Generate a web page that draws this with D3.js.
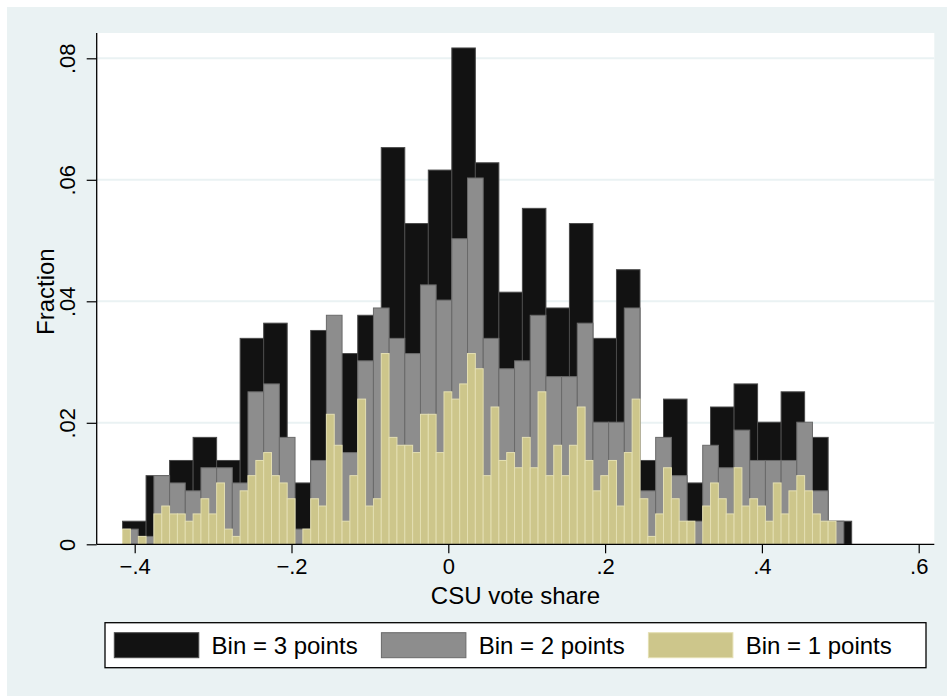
<!DOCTYPE html>
<html>
<head>
<meta charset="utf-8">
<script src="https://cdn.jsdelivr.net/npm/d3@7/dist/d3.min.js"></script>
<style>
  html, body { margin: 0; padding: 0; background: #ffffff; }
  svg { display: block; }
  text { font-family: "Liberation Sans", Arial, Helvetica, sans-serif; fill: #000; }
</style>
</head>
<body>
<svg id="chart" width="947" height="696"></svg>
<script>
// ---------------- data ----------------
const binStart = -0.4155;            // left edge of the first bin (min of CSU vote share)
const binWidths = [0.03, 0.02, 0.01];
const seriesLabels = ["Bin = 3 points", "Bin = 2 points", "Bin = 1 points"];

// fractions, bin width 0.03
const bin3Fraction = [0.0038, 0.0113, 0.0138, 0.0176, 0.0138, 0.0339, 0.0364, 0.0101, 0.0352, 0.0314,
  0.0377, 0.0653, 0.0528, 0.0616, 0.0817, 0.0628, 0.0415, 0.0553, 0.0389, 0.0528,
  0.0339, 0.0452, 0.0138, 0.0239, 0.0101, 0.0226, 0.0264, 0.0201, 0.0251, 0.0176, 0.0038];

// fractions, bin width 0.02
const bin2Fraction = [0.0025, 0.0013, 0.0113, 0.0101, 0.0088, 0.0126, 0.0126, 0.0101, 0.0251, 0.0264,
  0.0176, 0.0025, 0.0138, 0.0377, 0.0151, 0.0302, 0.0389, 0.0339, 0.0314, 0.0427,
  0.0402, 0.0503, 0.0603, 0.0339, 0.0289, 0.0302, 0.0377, 0.0276, 0.0276, 0.0364,
  0.0201, 0.0201, 0.0389, 0.0088, 0.0176, 0.0113, 0.0038, 0.0163, 0.0126, 0.0188,
  0.0138, 0.0138, 0.0138, 0.0201, 0.0088, 0.0038];

// fractions, bin width 0.01
const bin1Fraction = [0.0025, 0.0000, 0.0013, 0.0000, 0.0050, 0.0063, 0.0050, 0.0050, 0.0038, 0.0050,
  0.0075, 0.0050, 0.0101, 0.0025, 0.0013, 0.0088, 0.0113, 0.0138, 0.0151, 0.0113,
  0.0101, 0.0075, 0.0000, 0.0025, 0.0075, 0.0063, 0.0214, 0.0163, 0.0038, 0.0113,
  0.0239, 0.0063, 0.0075, 0.0314, 0.0176, 0.0163, 0.0163, 0.0151, 0.0214, 0.0214,
  0.0151, 0.0251, 0.0239, 0.0264, 0.0314, 0.0289, 0.0113, 0.0226, 0.0138, 0.0151,
  0.0126, 0.0176, 0.0126, 0.0251, 0.0113, 0.0163, 0.0113, 0.0163, 0.0226, 0.0138,
  0.0088, 0.0113, 0.0138, 0.0063, 0.0151, 0.0239, 0.0075, 0.0013, 0.0050, 0.0126,
  0.0075, 0.0038, 0.0038, 0.0000, 0.0063, 0.0101, 0.0075, 0.0050, 0.0126, 0.0063,
  0.0075, 0.0063, 0.0038, 0.0101, 0.0050, 0.0088, 0.0113, 0.0088, 0.0050, 0.0038,
  0.0038, 0.0000];

const xTicks = [-0.4, -0.2, 0, 0.2, 0.4, 0.6];
const xTickLabels = ["\u2212.4", "\u2212.2", "0", ".2", ".4", ".6"];
const yTicks = [0, 0.02, 0.04, 0.06, 0.08];
const yTickLabels = ["0", ".02", ".04", ".06", ".08"];
const xTitle = "CSU vote share";
const yTitle = "Fraction";

// ---------------- styles / layout ----------------
const fills   = ["#121212", "#8d8d8d", "#cdc68b"];
const strokes = ["#4a4a4a", "#6a6a6a", "#e4dfb2"];
const bgColor = "#eaf2f3";

const plot = { left: 96.7, right: 934.3, top: 33, bottom: 544.3 };

const svg = d3.select("#chart");

// outer graph region
svg.append("rect").attr("x", 7).attr("y", 7).attr("width", 947 - 7).attr("height", 696 - 7)
  .attr("fill", bgColor);
// plot region
svg.append("rect").attr("x", plot.left).attr("y", plot.top)
  .attr("width", plot.right - plot.left).attr("height", plot.bottom - plot.top)
  .attr("fill", "#ffffff");

const x = d3.scaleLinear().domain([-0.4, 0.6]).range([134.7, 918.7]);
const y = d3.scaleLinear().domain([0, 0.08]).range([plot.bottom, 58.3]);

// gridlines
svg.append("g").selectAll("line").data(yTicks.filter(d => d > 0)).join("line")
  .attr("x1", plot.left).attr("x2", plot.right)
  .attr("y1", d => y(d)).attr("y2", d => y(d))
  .attr("stroke", bgColor).attr("stroke-width", 2);

// bars
const series = [bin3Fraction, bin2Fraction, bin1Fraction];
series.forEach((vals, s) => {
  const w = binWidths[s];
  svg.append("g").selectAll("rect").data(vals.map((v, i) => ({ v, i })).filter(d => d.v > 0)).join("rect")
    .attr("x", d => x(binStart + d.i * w))
    .attr("width", d => x(binStart + (d.i + 1) * w) - x(binStart + d.i * w))
    .attr("y", d => y(d.v))
    .attr("height", d => y(0) - y(d.v))
    .attr("fill", fills[s])
    .attr("stroke", strokes[s])
    .attr("stroke-width", 1);
});

// x axis
svg.append("line").attr("x1", plot.left).attr("x2", plot.right)
  .attr("y1", plot.bottom).attr("y2", plot.bottom)
  .attr("stroke", "#000").attr("stroke-width", 1.3);
const xAxis = d3.axisBottom(x).tickValues(xTicks)
  .tickFormat((d, i) => xTickLabels[i]).tickSize(9).tickPadding(5);
const gx = svg.append("g").attr("transform", `translate(0,${plot.bottom})`).call(xAxis);
gx.select(".domain").remove();
gx.selectAll(".tick line").attr("stroke", "#000").attr("stroke-width", 1.2);
gx.selectAll(".tick text").attr("font-size", 22).attr("font-family", "Liberation Sans, Arial, sans-serif")
  .attr("fill", "#000");

// y axis
svg.append("line").attr("x1", plot.left).attr("x2", plot.left)
  .attr("y1", plot.top).attr("y2", plot.bottom)
  .attr("stroke", "#000").attr("stroke-width", 1.3);
const yAxis = d3.axisLeft(y).tickValues(yTicks)
  .tickFormat((d, i) => yTickLabels[i]).tickSize(10);
const gy = svg.append("g").attr("transform", `translate(${plot.left},0)`).call(yAxis);
gy.select(".domain").remove();
gy.selectAll(".tick line").attr("stroke", "#000").attr("stroke-width", 1.2);
gy.selectAll(".tick text")
  .attr("font-size", 22).attr("font-family", "Liberation Sans, Arial, sans-serif").attr("fill", "#000")
  .attr("x", null).attr("dy", null)
  .attr("text-anchor", "middle")
  .attr("transform", "translate(-22,0) rotate(-90)");

// axis titles
svg.append("text").attr("x", (plot.left + plot.right) / 2).attr("y", 604)
  .attr("text-anchor", "middle").attr("font-size", 24).text(xTitle);
svg.append("text").attr("transform", `translate(53.5,${(plot.top + plot.bottom) / 2 + 3}) rotate(-90)`)
  .attr("text-anchor", "middle").attr("font-size", 24).text(yTitle);

// legend
const legend = svg.append("g");
legend.append("rect").attr("x", 105).attr("y", 622.7).attr("width", 821).attr("height", 45)
  .attr("fill", "#fff").attr("stroke", "#000").attr("stroke-width", 1.3);
const keyX = [114.3, 381.4, 648.4];
seriesLabels.forEach((lab, s) => {
  legend.append("rect").attr("x", keyX[s]).attr("y", 632.7).attr("width", 84.5).attr("height", 25)
    .attr("fill", fills[s]).attr("stroke", strokes[s]).attr("stroke-width", 1);
  legend.append("text").attr("x", keyX[s] + 97.3).attr("y", 654.3)
    .attr("font-size", 24).text(lab);
});
</script>
</body>
</html>
